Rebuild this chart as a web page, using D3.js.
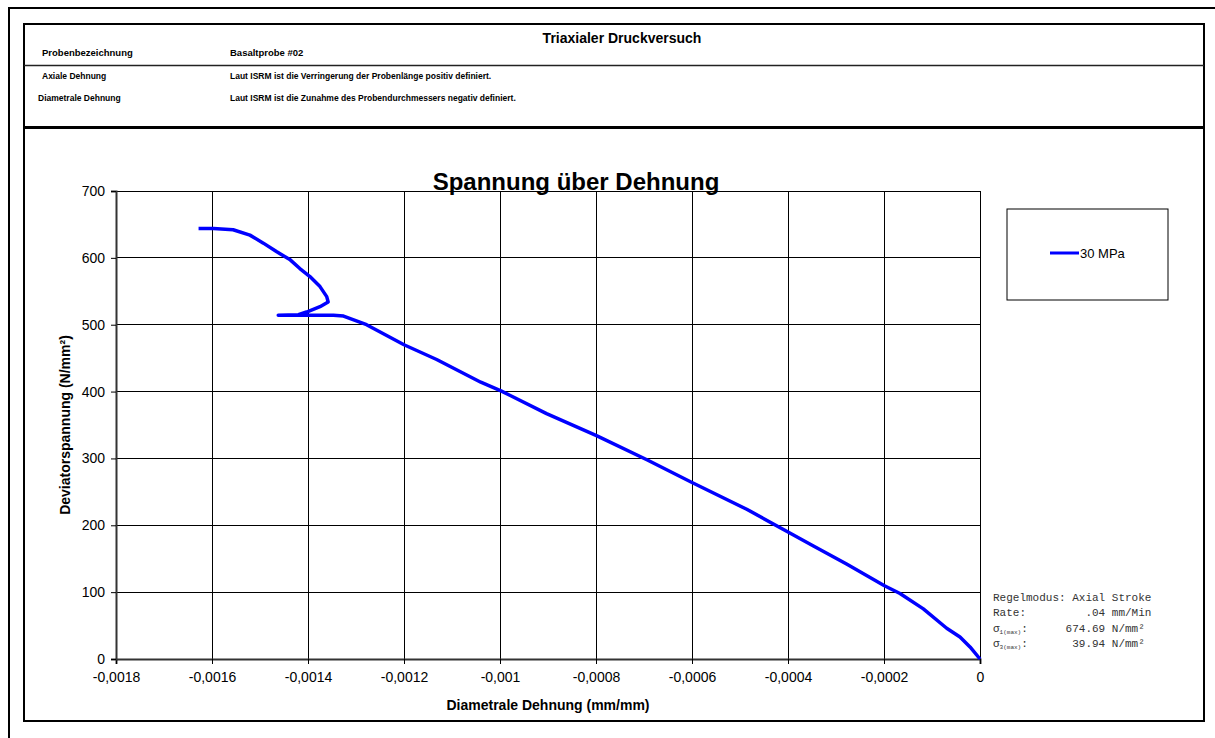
<!DOCTYPE html>
<html>
<head>
<meta charset="utf-8">
<script src="https://cdn.jsdelivr.net/npm/d3@7"></script>
<style>
  body { margin: 0; background: #fff; }
  svg { font-family: 'Liberation Sans', Arial, sans-serif; }
  .grid line { stroke: #000; stroke-width: 1; shape-rendering: crispEdges; }
  .mono { font-family: 'Liberation Mono', 'Courier New', monospace; font-size: 11px; fill: #333; white-space: pre; }
</style>
</head>
<body>
<div id="chart"></div>
<script>
// diametral strain (mm/mm) and deviator stress (N/mm²)
const strain = [0, -0.0000208, -0.0000417, -0.0000694, -0.000118, -0.0001667, -0.0002, -0.000278, -0.000347,
    -0.0004, -0.000486, -0.0006, -0.000694, -0.000799, -0.000903, -0.000998, -0.00104, -0.001132, -0.0012,
    -0.001278, -0.001326, -0.001347, -0.0014, -0.001462, -0.00142, -0.001403, -0.001375, -0.001358, -0.001361,
    -0.001375, -0.001396, -0.001417, -0.001437, -0.001465, -0.001493, -0.001521, -0.001556, -0.001597, -0.001628];
const stress = [0, 18, 33, 46, 75, 98, 110, 142, 169,
    190, 224, 264, 298, 334, 367, 401, 414, 448, 470,
    500, 513, 514, 514, 514, 515, 519, 527, 534, 542,
    557, 572, 584, 597, 609, 622, 634, 642, 644, 644];

// axis ticks
const xTicks = [-0.0018, -0.0016, -0.0014, -0.0012, -0.001, -0.0008, -0.0006, -0.0004, -0.0002, 0];
const yTicks = [0, 100, 200, 300, 400, 500, 600, 700];

const seriesName = '30 MPa';

// header texts
const headerTitle = 'Triaxialer Druckversuch';
const headerRows = [
    ['Probenbezeichnung', 'Basaltprobe #02'],
    ['Axiale Dehnung', 'Laut ISRM ist die Verringerung der Probenlänge positiv definiert.'],
    ['Diametrale Dehnung', 'Laut ISRM ist die Zunahme des Probendurchmessers negativ definiert.']
];

// test info box
const infoRows = [
    ['Regelmodus:', 'Axial Stroke', ''],
    ['Rate:', '.04 mm/Min', ''],
    ['σ', '674.69 N/mm²', '1(max)'],
    ['σ', '39.94 N/mm²', '3(max)']
];

drawChart();

function drawChart() {
    const width = 1215, height = 738;

    const svg = d3.select('#chart').append('svg')
        .attr('width', width)
        .attr('height', height);

    // outer page frame (top + left only visible)
    svg.append('path')
        .attr('d', 'M9,738V8H1215')
        .attr('fill', 'none')
        .attr('stroke', '#000')
        .attr('stroke-width', 2);

    // inner sheet box
    svg.append('rect')
        .attr('x', 24).attr('y', 24)
        .attr('width', 1180).attr('height', 697)
        .attr('fill', 'none')
        .attr('stroke', '#000')
        .attr('stroke-width', 2);

    // header separators
    svg.append('line')
        .attr('x1', 24).attr('x2', 1204)
        .attr('y1', 65.5).attr('y2', 65.5)
        .attr('stroke', '#222').attr('stroke-width', 1.5);
    svg.append('line')
        .attr('x1', 24).attr('x2', 1204)
        .attr('y1', 127.5).attr('y2', 127.5)
        .attr('stroke', '#000').attr('stroke-width', 3);

    svg.append('text')
        .attr('x', 622).attr('y', 43)
        .attr('text-anchor', 'middle')
        .attr('font-size', 14).attr('font-weight', 'bold')
        .text(headerTitle);

    const rowY = [56, 79, 101];
    const rowX = [42, 42, 38];
    const rowSize = [9.5, 8.5, 8.5];
    headerRows.forEach((r, i) => {
        svg.append('text')
            .attr('x', rowX[i]).attr('y', rowY[i])
            .attr('font-size', rowSize[i]).attr('font-weight', 'bold')
            .text(r[0]);
        svg.append('text')
            .attr('x', 230).attr('y', rowY[i])
            .attr('font-size', rowSize[i]).attr('font-weight', 'bold')
            .text(r[1]);
    });

    // plot area
    const plot = {left: 116, right: 980, top: 191, bottom: 659};

    const x = d3.scaleLinear()
        .domain([-0.0018, 0])
        .range([plot.left, plot.right]);
    const y = d3.scaleLinear()
        .domain([0, 700])
        .range([plot.bottom, plot.top]);

    // gridlines
    const grid = svg.append('g').attr('class', 'grid');
    grid.selectAll('.vg')
        .data(xTicks)
        .join('line')
        .attr('x1', d => x(d)).attr('x2', d => x(d))
        .attr('y1', plot.top).attr('y2', plot.bottom);
    grid.selectAll('.hg')
        .data(yTicks)
        .join('line')
        .attr('x1', plot.left).attr('x2', plot.right)
        .attr('y1', d => y(d)).attr('y2', d => y(d));

    const fmt = d => d === 0 ? '0' : String(d).replace('.', ',');

    // x axis
    const xAxis = svg.append('g')
        .attr('transform', `translate(0,${plot.bottom})`)
        .call(d3.axisBottom(x).tickValues(xTicks).tickFormat(fmt).tickSize(5).tickPadding(8));
    // y axis
    const yAxis = svg.append('g')
        .attr('transform', `translate(${plot.left},0)`)
        .call(d3.axisLeft(y).tickValues(yTicks).tickSize(5).tickPadding(6));

    [xAxis, yAxis].forEach(a => {
        a.select('.domain').attr('stroke', '#333').attr('stroke-width', 2);
        a.selectAll('.tick line').attr('stroke', '#000');
        a.selectAll('.tick text')
            .attr('font-family', "'Liberation Sans', Arial, sans-serif")
            .attr('font-size', 14)
            .attr('fill', '#000');
    });

    // axis titles
    svg.append('text')
        .attr('x', 548).attr('y', 710)
        .attr('text-anchor', 'middle')
        .attr('font-size', 14).attr('font-weight', 'bold')
        .text('Diametrale Dehnung (mm/mm)');
    svg.append('text')
        .attr('transform', 'translate(70,425) rotate(-90)')
        .attr('text-anchor', 'middle')
        .attr('font-size', 14).attr('font-weight', 'bold')
        .text('Deviatorspannung (N/mm²)');

    // chart title
    svg.append('text')
        .attr('x', 576).attr('y', 190)
        .attr('text-anchor', 'middle')
        .attr('font-size', 24).attr('font-weight', 'bold')
        .text('Spannung über Dehnung');

    // curve
    const points = strain.map((s, i) => [s, stress[i]]);
    const line = d3.line()
        .x(d => x(d[0]))
        .y(d => y(d[1]));
    svg.append('path')
        .datum(points)
        .attr('d', line)
        .attr('fill', 'none')
        .attr('stroke', '#0000ff')
        .attr('stroke-width', 3.5)
        .attr('stroke-linejoin', 'round');

    // legend
    const legend = svg.append('g').attr('transform', 'translate(1007,209)');
    legend.append('rect')
        .attr('width', 161).attr('height', 91)
        .attr('fill', '#fff')
        .attr('stroke', '#000').attr('stroke-width', 1);
    legend.append('line')
        .attr('x1', 43).attr('x2', 72)
        .attr('y1', 44).attr('y2', 44)
        .attr('stroke', '#0000ff').attr('stroke-width', 3);
    legend.append('text')
        .attr('x', 73).attr('y', 49)
        .attr('font-size', 13)
        .text(seriesName);

    // test info
    const info = svg.append('g').attr('transform', 'translate(993,601)');
    const cw = 6.6;
    infoRows.forEach((r, i) => {
        const t = info.append('text')
            .attr('class', 'mono')
            .attr('y', i * 15.3);
        t.append('tspan').attr('x', 0).text(r[0]);
        if (r[2]) {
            t.append('tspan').attr('dy', 2).attr('font-size', 6).text(r[2]);
            t.append('tspan').attr('dy', -2).text(':');
        }
        const col = i === 0 ? 12 : (i === 1 ? 14 : (i === 2 ? 11 : 12));
        info.append('text')
            .attr('class', 'mono')
            .attr('x', col * cw).attr('y', i * 15.3)
            .text(r[1]);
    });
}
</script>
</body>
</html>
